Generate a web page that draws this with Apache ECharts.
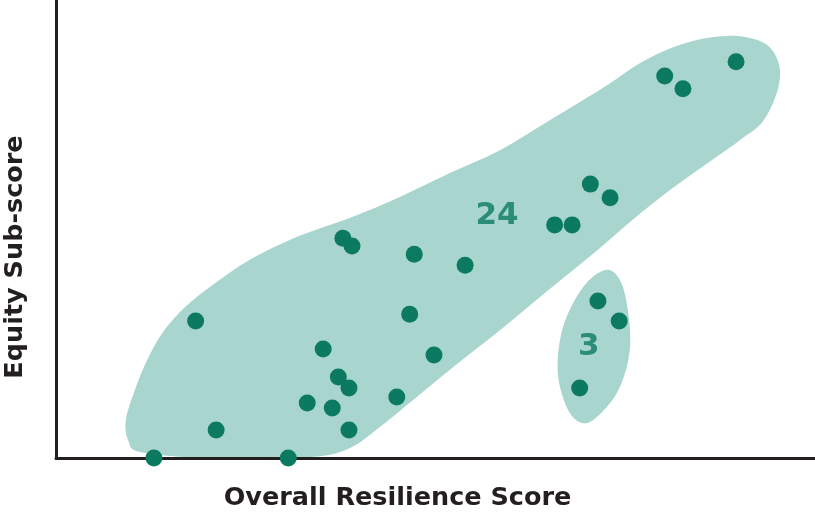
<!DOCTYPE html>
<html>
<head>
<meta charset="utf-8">
<script src="https://cdn.jsdelivr.net/npm/echarts@6/dist/echarts.min.js"></script>
<style>
html,body{margin:0;padding:0;background:#fff;}
#chart{width:815px;height:514px;}
</style>
</head>
<body>
<div id="chart"></div>
<script>
// Scatter points: [overall resilience score, equity sub-score] (relative 0-100 scale)
var pointsX = [12.9, 30.6, 21.1, 18.4, 33.1, 35.2, 37.2, 38.6, 36.4, 38.6, 37.8, 39.0, 47.2, 53.9, 46.6, 49.8, 44.9, 65.7, 68.0, 70.4, 73.0, 80.2, 82.6, 89.6, 71.4, 74.2, 69.0];
var pointsY = [0, 0, 6.1, 29.9, 12.0, 23.8, 17.7, 15.3, 10.9, 6.1, 48.0, 46.3, 44.5, 42.1, 31.4, 22.5, 13.3, 50.9, 50.9, 59.8, 56.8, 83.4, 80.6, 86.5, 34.3, 29.9, 15.3];

// Cluster outlines (same data scale)
var bigBlobX = [9.5, 11.1, 19.0, 26.9, 34.8, 39.0, 42.7, 48.0, 53.2, 58.5, 64.4, 70.4, 75.6, 80.9, 86.2, 90.1, 93.1, 95.0, 95.3, 93.7, 90.1, 85.8, 81.3, 76.9, 72.6, 65.1, 58.5, 51.9, 45.3, 38.7, 32.1, 26.0, 21.6, 17.3, 14.1, 11.9, 10.3, 9.2];
var bigBlobY = [3.9, 1.3, 0, 0, 0.4, 2.4, 6.8, 14.0, 21.0, 27.9, 36.0, 44.1, 51.5, 58.5, 64.8, 69.4, 73.4, 79.9, 85.6, 90.2, 92.1, 91.7, 89.7, 86.2, 81.4, 73.8, 67.2, 62.2, 57.0, 52.4, 48.5, 43.7, 38.9, 33.4, 27.5, 21.0, 14.4, 8.3];
var smallBlobX = [73.0, 74.7, 75.6, 75.4, 73.9, 71.3, 69.4, 67.7, 66.4, 66.1, 66.8, 68.6, 70.7];
var smallBlobY = [41.0, 37.3, 28.6, 21.4, 14.2, 9.0, 7.6, 9.8, 15.5, 21.4, 28.6, 35.2, 39.5];

// Cluster count labels
var clusterLabels = ['24', '3'];
var clusterLabelX = [58.1, 70.2];
var clusterLabelY = [52.8, 24.2];

var xTitle = 'Overall Resilience Score';
var yTitle = 'Equity Sub-score';

var dotColor = '#0b7a61';
var blobColor = '#a8d5ce';
var titleFont = 'DejaVu Sans';

function zip(a, b) { return a.map(function (v, i) { return [v, b[i]]; }); }

// closed Catmull-Rom spline through the projected outline points
function smoothClosedPath(pts) {
  var n = pts.length, d = 'M' + pts[0][0] + ' ' + pts[0][1];
  for (var i = 0; i < n; i++) {
    var p0 = pts[(i - 1 + n) % n], p1 = pts[i], p2 = pts[(i + 1) % n], p3 = pts[(i + 2) % n];
    var c1x = p1[0] + (p2[0] - p0[0]) / 6, c1y = p1[1] + (p2[1] - p0[1]) / 6;
    var c2x = p2[0] - (p3[0] - p1[0]) / 6, c2y = p2[1] - (p3[1] - p1[1]) / 6;
    d += ' C' + c1x + ' ' + c1y + ' ' + c2x + ' ' + c2y + ' ' + p2[0] + ' ' + p2[1];
  }
  return d + ' Z';
}

function blobSeries(xs, ys) {
  var pts = zip(xs, ys);
  return {
    type: 'custom',
    z: -1,
    silent: true,
    clip: false,
    data: pts,
    renderItem: function (params, api) {
      if (params.dataIndex !== 0) return null;
      var poly = pts.map(function (p) { return api.coord(p); });
      return {
        type: 'path',
        shape: { pathData: smoothClosedPath(poly) },
        style: { fill: blobColor, stroke: null }
      };
    }
  };
}

var chart = echarts.init(document.getElementById('chart'));
chart.setOption({
  animation: false,
  grid: { left: 56, right: 0, top: 0, bottom: 56, containLabel: false, outerBoundsMode: 'none' },
  xAxis: {
    type: 'value', min: 0, max: 100,
    axisLine: { show: true, lineStyle: { color: '#231f20', width: 3 } },
    axisTick: { show: false }, axisLabel: { show: false }, splitLine: { show: false },
    name: xTitle, nameLocation: 'middle', nameGap: 27,
    nameTextStyle: { fontFamily: titleFont, fontWeight: 'bold', fontSize: 25.5, color: '#231f20', padding: [0, 76, 0, 0] }
  },
  yAxis: {
    type: 'value', min: 0, max: 100,
    axisLine: { show: true, lineStyle: { color: '#231f20', width: 3 } },
    axisTick: { show: false }, axisLabel: { show: false }, splitLine: { show: false },
    name: yTitle, nameLocation: 'middle', nameGap: 28,
    nameTextStyle: { fontFamily: titleFont, fontWeight: 'bold', fontSize: 25.5, color: '#231f20', padding: [0, 56, 0, 0] }
  },
  series: [
    blobSeries(bigBlobX, bigBlobY),
    blobSeries(smallBlobX, smallBlobY),
    {
      type: 'scatter',
      z: 3,
      symbolSize: 17,
      itemStyle: { color: dotColor, opacity: 1 },
      data: zip(pointsX, pointsY)
    },
    {
      type: 'scatter',
      z: 4,
      symbolSize: 0,
      silent: true,
      data: clusterLabels.map(function (t, i) { return { name: t, value: [clusterLabelX[i], clusterLabelY[i]] }; }),
      label: {
        show: true, position: 'inside', formatter: '{b}',
        fontFamily: titleFont, fontWeight: 'bold', fontSize: 31, color: dotColor
      }
    }
  ]
});
</script>
</body>
</html>
